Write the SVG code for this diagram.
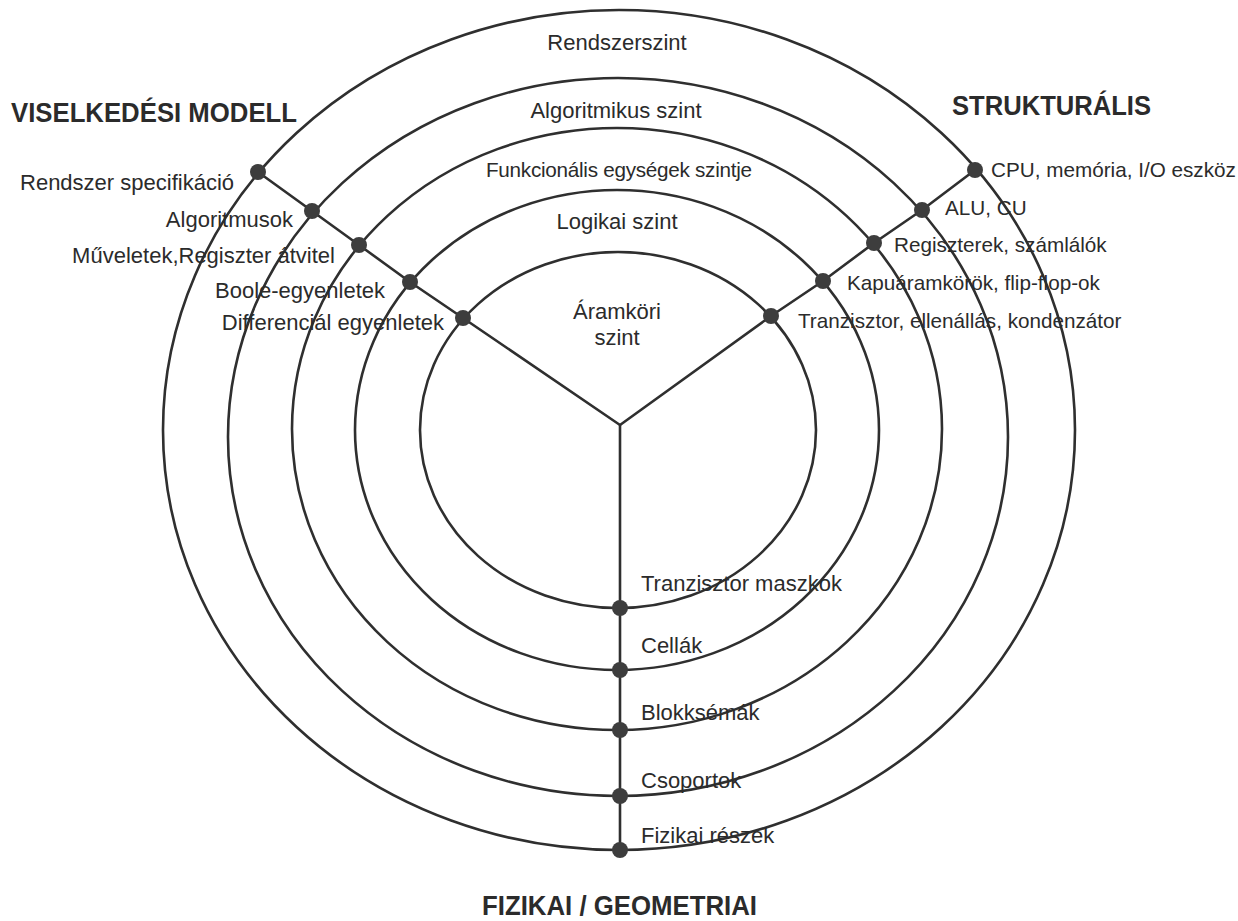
<svg xmlns="http://www.w3.org/2000/svg" width="1238" height="921" viewBox="0 0 1238 921">
  <style>
    .ring { fill: none; stroke: #2f2f2f; stroke-width: 2.6; }
    .axis { fill: none; stroke: #2f2f2f; stroke-width: 2.6; stroke-linejoin: round; }
    .dot { fill: #3d3d3d; }
    text { font-family: "Liberation Sans", Arial, sans-serif; fill: #2b2b2b; }
    .lbl { font-size: 22px; }
    .lbl-r { font-size: 20.7px; }
    .head { font-size: 27.5px; font-weight: bold; }
  </style>

  <rect width="1238" height="921" fill="#ffffff"/>

  <!-- abstraction level rings, innermost to outermost -->
  <g id="rings">
    <ellipse class="ring" cx="618" cy="430" rx="198" ry="178"/>
    <ellipse class="ring" cx="617" cy="430" rx="262" ry="240"/>
    <ellipse class="ring" cx="617" cy="429" rx="325" ry="301"/>
    <ellipse class="ring" cx="618" cy="437" rx="390" ry="359"/>
    <ellipse class="ring" cx="619" cy="430" rx="456" ry="420"/>
  </g>

  <!-- the three domain axes of the Y -->
  <g id="connectors">
    <polyline class="axis" points="620,425 463,318 410,282 359,245 312,211 258,172"/>
    <polyline class="axis" points="620,425 771,316 823,281 874,243 922,210 975,170"/>
    <line class="axis" x1="620" y1="425" x2="620" y2="850"/>
  </g>

  <!-- level names -->
  <g id="levels">
    <text class="lbl" x="617" y="50" text-anchor="middle">Rendszerszint</text>
    <text class="lbl" x="616" y="118" text-anchor="middle">Algoritmikus szint</text>
    <text class="lbl-r" x="619" y="177" text-anchor="middle" textLength="266">Funkcionális egységek szintje</text>
    <text class="lbl" x="617" y="229" text-anchor="middle">Logikai szint</text>
    <text class="lbl" x="617" y="319" text-anchor="middle">Áramköri</text>
    <text class="lbl" x="617" y="345" text-anchor="middle">szint</text>
  </g>

  <!-- domain headings -->
  <g id="headings">
    <text class="head" x="11" y="122" textLength="286" lengthAdjust="spacingAndGlyphs">VISELKEDÉSI MODELL</text>
    <text class="head" x="952" y="115" textLength="199" lengthAdjust="spacingAndGlyphs">STRUKTURÁLIS</text>
    <text class="head" x="482" y="915" textLength="275" lengthAdjust="spacingAndGlyphs">FIZIKAI / GEOMETRIAI</text>
  </g>

  <!-- behavioural domain -->
  <g id="beh-system">
    <circle class="dot" cx="258" cy="172" r="8"/>
    <text class="lbl" x="234" y="190" text-anchor="end">Rendszer specifikáció</text>
  </g>
  <g id="beh-algorithm">
    <circle class="dot" cx="312" cy="211" r="8"/>
    <text class="lbl" x="293" y="227" text-anchor="end">Algoritmusok</text>
  </g>
  <g id="beh-rtl">
    <circle class="dot" cx="359" cy="245" r="8"/>
    <text class="lbl" x="335" y="263" text-anchor="end">Műveletek,Regiszter átvitel</text>
  </g>
  <g id="beh-logic">
    <circle class="dot" cx="410" cy="282" r="8"/>
    <text class="lbl" x="385" y="298" text-anchor="end">Boole-egyenletek</text>
  </g>
  <g id="beh-circuit">
    <circle class="dot" cx="463" cy="318" r="8"/>
    <text class="lbl" x="444" y="330" text-anchor="end">Differenciál egyenletek</text>
  </g>

  <!-- structural domain -->
  <g id="str-system">
    <circle class="dot" cx="975" cy="170" r="8"/>
    <text class="lbl-r" x="991" y="177">CPU, memória, I/O eszköz</text>
  </g>
  <g id="str-algorithm">
    <circle class="dot" cx="922" cy="210" r="8"/>
    <text class="lbl-r" x="945" y="215">ALU, CU</text>
  </g>
  <g id="str-rtl">
    <circle class="dot" cx="874" cy="243" r="8"/>
    <text class="lbl-r" x="894" y="252">Regiszterek, számlálók</text>
  </g>
  <g id="str-logic">
    <circle class="dot" cx="823" cy="281" r="8"/>
    <text class="lbl-r" x="847" y="290">Kapuáramkörök, flip-flop-ok</text>
  </g>
  <g id="str-circuit">
    <circle class="dot" cx="771" cy="316" r="8"/>
    <text class="lbl-r" x="798" y="328">Tranzisztor, ellenállás, kondenzátor</text>
  </g>

  <!-- physical domain -->
  <g id="phy-circuit">
    <circle class="dot" cx="620" cy="608" r="8"/>
    <text class="lbl" x="641" y="591">Tranzisztor maszkok</text>
  </g>
  <g id="phy-logic">
    <circle class="dot" cx="620" cy="670" r="8"/>
    <text class="lbl" x="641" y="653">Cellák</text>
  </g>
  <g id="phy-rtl">
    <circle class="dot" cx="620" cy="730" r="8"/>
    <text class="lbl" x="641" y="720">Blokksémák</text>
  </g>
  <g id="phy-algorithm">
    <circle class="dot" cx="620" cy="796" r="8"/>
    <text class="lbl" x="641" y="788">Csoportok</text>
  </g>
  <g id="phy-system">
    <circle class="dot" cx="620" cy="850" r="8"/>
    <text class="lbl" x="641" y="843">Fizikai részek</text>
  </g>
</svg>
